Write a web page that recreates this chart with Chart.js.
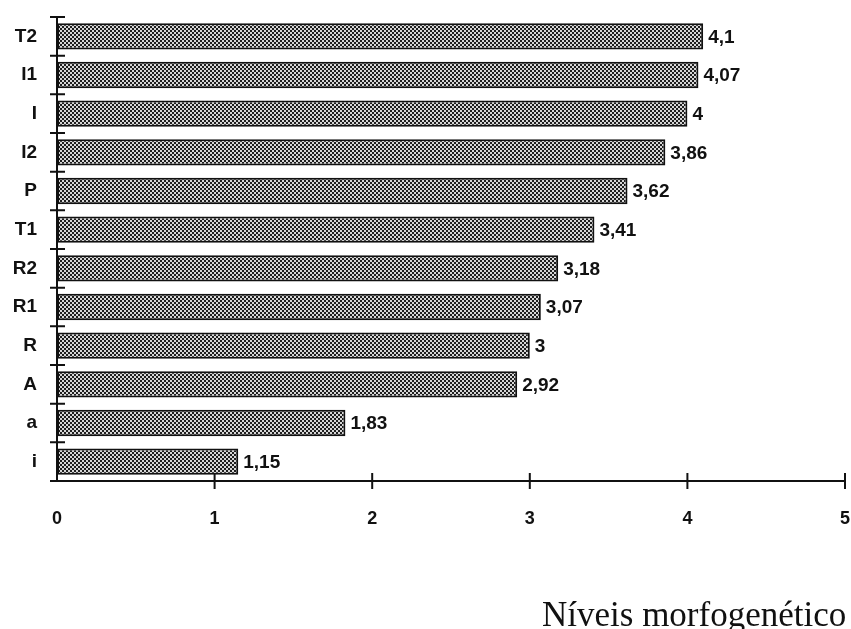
<!DOCTYPE html>
<html>
<head>
<meta charset="utf-8">
<script src="https://cdn.jsdelivr.net/npm/chart.js@4/dist/chart.umd.min.js"></script>
<style>
  body { margin: 0; background: #fff; }
  #wrap { position: relative; width: 851px; height: 629px; overflow: hidden; }
  #xTitle {
    position: absolute; left: 542px; top: 595px;
    font-family: "Liberation Serif", "Times New Roman", serif;
    font-size: 35px; color: #111; white-space: nowrap;
  }
</style>
</head>
<body>
<div id="wrap">
  <canvas id="chart" width="851" height="629"></canvas>
  <div id="xTitle">Níveis morfogenético</div>
</div>
<script>
// categories top to bottom
const levels = ["T2", "I1", "I", "I2", "P", "T1", "R2", "R1", "R", "A", "a", "i"];
const means = [4.1, 4.07, 4, 3.86, 3.62, 3.41, 3.18, 3.07, 3, 2.92, 1.83, 1.15];
const meanLabels = ["4,1", "4,07", "4", "3,86", "3,62", "3,41", "3,18", "3,07", "3", "2,92", "1,83", "1,15"];
const xTicks = [0, 1, 2, 3, 4, 5];

// checkered fill like the old print
function makePattern() {
  const c = document.createElement("canvas");
  c.width = 4; c.height = 4;
  const g = c.getContext("2d");
  g.fillStyle = "#d6d6d6";
  g.fillRect(0, 0, 4, 4);
  g.fillStyle = "#1e1e1e";
  g.fillRect(0, 0, 2, 2);
  g.fillRect(2, 2, 2, 2);
  return g.createPattern(c, "repeat");
}

const tickMarks = {
  id: "tickMarks",
  afterDraw(chart) {
    const ctx = chart.ctx;
    const xs = chart.scales.x;
    const ys = chart.scales.y;
    ctx.save();
    ctx.strokeStyle = "#111";
    ctx.lineWidth = 2;
    // y boundaries between categories
    ctx.beginPath();
    for (let i = 0; i <= levels.length; i++) {
      const y = ys.getPixelForValue(i - 0.5);
      const right = i === levels.length ? xs.left : xs.left + 8;
      ctx.moveTo(xs.left - 7, y);
      ctx.lineTo(right, y);
    }
    // x ticks crossing the axis
    xTicks.forEach(v => {
      if (v === 0) return;
      const x = xs.getPixelForValue(v);
      ctx.moveTo(x, ys.bottom - 8);
      ctx.lineTo(x, ys.bottom + 8);
    });
    ctx.stroke();

    // value labels at bar ends
    ctx.fillStyle = "#111";
    ctx.font = "bold 19px 'Liberation Sans', Arial, sans-serif";
    ctx.textBaseline = "middle";
    chart.getDatasetMeta(0).data.forEach((bar, i) => {
      ctx.fillText(meanLabels[i], bar.x + 5, bar.y + 1);
    });
    ctx.restore();
  }
};

new Chart(document.getElementById("chart"), {
  type: "bar",
  data: {
    labels: levels,
    datasets: [{
      data: means,
      backgroundColor: makePattern(),
      borderColor: "#111",
      borderWidth: 2,
      borderSkipped: false,
      barPercentage: 0.68,
      categoryPercentage: 1
    }]
  },
  options: {
    indexAxis: "y",
    responsive: false,
    animation: false,
    layout: { padding: { top: 17, right: 6, left: 0, bottom: 0 } },
    plugins: { legend: { display: false }, tooltip: { enabled: false } },
    scales: {
      x: {
        min: 0, max: 5,
        afterBuildTicks: s => { s.ticks = xTicks.map(v => ({ value: v })); },
        afterFit: s => { s.height = 148; s.paddingLeft = 0; s.paddingRight = 0; },
        grid: { display: false, drawTicks: false },
        border: { display: true, color: "#111", width: 2 },
        ticks: {
          padding: 27,
          color: "#111",
          font: { family: "'Liberation Sans', Arial, sans-serif", size: 18, weight: "bold" }
        }
      },
      y: {
        afterFit: s => { s.width = 57; s.paddingTop = 0; s.paddingBottom = 0; },
        grid: { display: false, drawTicks: false, offset: true },
        border: { display: true, color: "#111", width: 2 },
        ticks: {
          padding: 20,
          color: "#111",
          font: { family: "'Liberation Sans', Arial, sans-serif", size: 19, weight: "bold" }
        }
      }
    }
  },
  plugins: [tickMarks]
});
</script>
</body>
</html>
